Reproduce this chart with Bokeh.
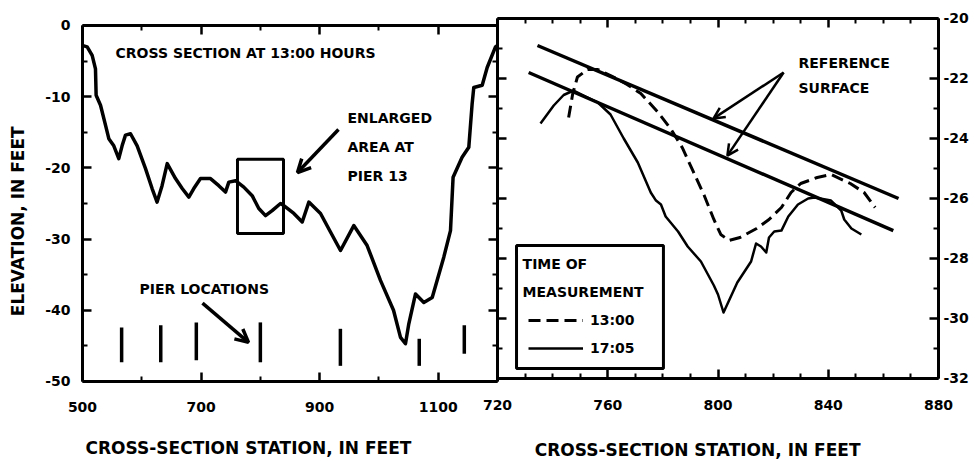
import math
from bokeh.plotting import figure
from bokeh.models import (Range1d, LinearAxis, FixedTicker, Label, Arrow, OpenHead,
                          BoxAnnotation, Legend, LegendItem)
from bokeh.embed import file_html
from bokeh.resources import INLINE

# ---------------- data: left panel (cross section at 13:00) ----------------
SECTION_STATION = [499.5, 507.9, 516.3, 521.9, 523.0, 530.4, 538.8, 544.4, 552.8, 561.2,
                   566.8, 572.5, 581.0, 592.2, 606.3, 617.4, 625.8, 634.2, 642.9, 656.9,
                   668.2, 679.4, 687.7, 699.0, 715.9, 729.9, 741.2, 746.8, 758.1, 772.1,
                   786.2, 797.4, 808.7, 819.9, 834.0, 839.6, 856.5, 870.6, 881.8, 901.5,
                   918.3, 935.2, 957.6, 980.1, 1002.6, 1024.6, 1036.4, 1044.8, 1050.4, 1061.7,
                   1075.7, 1089.9, 1109.5, 1120.7, 1125.1, 1140.3, 1151.6, 1157.2, 1160.0, 1174.2,
                   1182.6, 1196.6, 1200.0]
SECTION_ELEV = [-2.8, -3.0, -4.2, -6.1, -9.8, -11.2, -14.0, -15.9, -16.9, -18.7,
                -16.9, -15.4, -15.2, -16.9, -20.1, -22.9, -24.8, -22.5, -19.4, -21.5,
                -22.9, -24.1, -22.9, -21.5, -21.5, -22.5, -23.4, -22.0, -21.8, -22.7,
                -23.9, -25.7, -26.7, -26.0, -25.0, -25.3, -26.4, -27.6, -24.8, -26.4,
                -29.0, -31.6, -28.1, -30.9, -35.8, -40.0, -43.8, -44.7, -41.9, -37.7,
                -38.9, -38.2, -32.5, -28.8, -21.3, -18.5, -17.1, -11.0, -8.7, -8.4,
                -5.9, -3.0, -2.8]

PIER_STATION = [566, 632, 692, 800, 935, 1068, 1144]
PIER_TOP = [-42.4, -42.1, -41.7, -41.7, -42.6, -44.0, -42.1]
PIER_BOTTOM = [-47.3, -47.3, -47.0, -47.3, -47.8, -47.8, -46.1]

ENLARGED_LEFT = [761.4]
ENLARGED_RIGHT = [839.0]
ENLARGED_TOP = [-18.8]
ENLARGED_BOTTOM = [-29.2]

# ---------------- data: right panel (enlarged area at pier 13) ----------------
STATION_1300 = [745.8, 747.3, 749.0, 752.7, 756.4, 761.0, 767.0, 772.0, 778.0, 783.0,
                787.0, 791.0, 795.0, 798.5, 801.0, 804.0, 808.0, 814.0, 818.5, 823.0,
                826.5, 830.0, 836.0, 841.0, 848.0, 853.0, 857.0]
ELEV_1300 = [-23.3, -22.5, -21.95, -21.7, -21.7, -21.9, -22.2, -22.5, -23.1, -23.7,
             -24.3, -25.1, -25.9, -26.7, -27.2, -27.4, -27.3, -27.0, -26.7, -26.3,
             -25.8, -25.5, -25.3, -25.2, -25.5, -25.8, -26.3]

STATION_1705 = [735.6, 740.4, 744.0, 747.6, 752.0, 756.4, 761.0, 765.8, 770.9, 775.6,
                777.5, 779.3, 781.0, 785.5, 789.0, 793.8, 798.5, 800.0, 802.0, 807.0,
                812.0, 813.8, 815.6, 817.5, 818.5, 820.4, 823.0, 825.5, 829.0, 832.7,
                835.0, 841.0, 844.7, 845.8, 848.4, 852.0]
ELEV_1705 = [-23.5, -22.9, -22.55, -22.4, -22.6, -22.8, -23.2, -24.0, -24.8, -25.8,
             -26.07, -26.2, -26.6, -27.1, -27.6, -28.1, -28.9, -29.2, -29.8, -28.8,
             -28.1, -27.5, -27.6, -27.8, -27.3, -27.1, -27.07, -26.6, -26.2, -26.0,
             -25.97, -26.07, -26.4, -26.7, -27.0, -27.2]

REF_UPPER_X = [734.5, 865.5]
REF_UPPER_Y = [-20.9, -26.0]
REF_LOWER_X = [731.3, 863.6]
REF_LOWER_Y = [-21.8, -27.07]

# ---------------- tick values ----------------
LEFT_X_MAJOR = [500, 700, 900, 1100]
LEFT_X_MINOR = [600, 800, 1000, 1200]
LEFT_Y_MAJOR = [0, -10, -20, -30, -40, -50]
LEFT_Y_MINOR = [-5, -15, -25, -35, -45]
RIGHT_X_MAJOR = [720, 760, 800, 840, 880]
RIGHT_X_MINOR = [730, 740, 750, 770, 780, 790, 810, 820, 830, 850, 860, 870]
RIGHT_Y_MAJOR = [-20, -22, -24, -26, -28, -30, -32]
RIGHT_Y_MINOR = [-21, -23, -25, -27, -29, -31]

X_TITLE = "CROSS-SECTION STATION, IN FEET"
Y_TITLE = "ELEVATION, IN FEET"

FONT = "DejaVu Sans"

# The plotting frame covers the whole canvas; both panel frames are drawn with
# axes placed at fixed locations so that every text stays inside the frame.
p = figure(width=975, height=461, output_backend="svg", toolbar_location=None,
           x_range=Range1d(361.69, 2006.26), y_range=Range1d(-61.236, 3.511),
           x_axis_location=None, y_axis_location=None, min_border=0)
p.extra_x_ranges = {"right": Range1d(539.68, 893.42)}
p.extra_y_ranges = {"right": Range1d(-34.767, -19.4)}
p.title.visible = False
p.outline_line_color = None
p.grid.visible = False
p.background_fill_color = "white"
p.border_fill_color = "white"


def frame_axis(side, major, minor, fixed, bounds, xr="default", yr="default",
               labels=False, standoff=8):
    ax = LinearAxis(ticker=FixedTicker(ticks=major, minor_ticks=minor),
                    fixed_location=fixed, bounds=bounds,
                    x_range_name=xr, y_range_name=yr)
    ax.axis_line_width = 3
    ax.axis_line_color = "black"
    ax.major_tick_line_width = 2.5
    ax.minor_tick_line_width = 2
    ax.major_tick_in = 9
    ax.major_tick_out = 0
    ax.minor_tick_in = 5
    ax.minor_tick_out = 0
    ax.major_label_text_font = FONT
    ax.major_label_text_font_size = "14px"
    ax.major_label_text_font_style = "bold"
    ax.major_label_text_color = "black"
    ax.major_label_standoff = standoff
    if labels:
        ax.major_label_overrides = {t: str(t) for t in major}
    else:
        ax.major_label_overrides = {t: "" for t in major}
    p.add_layout(ax, side)


# left panel frame
frame_axis("left", LEFT_Y_MAJOR, LEFT_Y_MINOR, 500, (-50, 0), labels=True, standoff=12)
frame_axis("right", LEFT_Y_MAJOR, LEFT_Y_MINOR, 1200, (-50, 0))
frame_axis("below", LEFT_X_MAJOR, LEFT_X_MINOR, -50, (500, 1200), labels=True, standoff=21)
frame_axis("above", LEFT_X_MAJOR, LEFT_X_MINOR, 0, (500, 1200))
# right panel frame
frame_axis("right", RIGHT_Y_MAJOR, RIGHT_Y_MINOR, 880, (-32, -20), xr="right", yr="right",
           labels=True, standoff=5)
frame_axis("left", RIGHT_Y_MAJOR, RIGHT_Y_MINOR, 720, (-32, -20), xr="right", yr="right")
frame_axis("below", RIGHT_X_MAJOR, RIGHT_X_MINOR, -32, (720, 880), xr="right", yr="right",
           labels=True, standoff=22)
frame_axis("above", RIGHT_X_MAJOR, RIGHT_X_MINOR, -20, (720, 880), xr="right", yr="right")

# ---------------- left panel marks ----------------
p.line(SECTION_STATION, SECTION_ELEV, line_color="black", line_width=3.5, line_join="round")
p.segment(x0=PIER_STATION, y0=PIER_TOP, x1=PIER_STATION, y1=PIER_BOTTOM,
          line_color="black", line_width=3.5)
p.quad(left=ENLARGED_LEFT, right=ENLARGED_RIGHT, top=ENLARGED_TOP, bottom=ENLARGED_BOTTOM,
       fill_color=None, line_color="black", line_width=3)

# ---------------- right panel marks ----------------
p.line(REF_UPPER_X, REF_UPPER_Y, x_range_name="right", y_range_name="right",
       line_color="black", line_width=3.5)
p.line(REF_LOWER_X, REF_LOWER_Y, x_range_name="right", y_range_name="right",
       line_color="black", line_width=3.5)
r1300 = p.line(STATION_1300, ELEV_1300, x_range_name="right", y_range_name="right",
               line_color="black", line_width=3, line_dash="12 6")
r1705 = p.line(STATION_1705, ELEV_1705, x_range_name="right", y_range_name="right",
               line_color="black", line_width=2.5, line_join="round")


def label(x, y, text, size="14px", xr="default", yr="default", align="left", angle=0.0):
    p.add_layout(Label(x=x, y=y, text=text, x_range_name=xr, y_range_name=yr,
                       text_font=FONT, text_font_size=size, text_font_style="bold",
                       text_color="black", text_align=align, text_baseline="middle",
                       angle=angle))


def arrow(x0, y0, x1, y1, xr="default", yr="default", width=3.5, size=13):
    p.add_layout(Arrow(end=OpenHead(size=size, line_width=width, line_color="black"),
                       x_start=x0, y_start=y0, x_end=x1, y_end=y1,
                       x_range_name=xr, y_range_name=yr,
                       line_width=width, line_color="black"))


# axis titles
label(392.0, -27.5, Y_TITLE, size="17px", align="center", angle=math.pi / 2)
label(780.0, -59.4, X_TITLE, size="17px", align="center")
label(792.6, -34.4, X_TITLE, size="17px", align="center", xr="right", yr="right")

# left panel annotations
label(555.7, -3.8, "CROSS SECTION AT 13:00 HOURS")
label(947.0, -13.06, "ENLARGED")
label(947.0, -17.13, "AREA AT")
label(947.0, -21.2, "PIER 13")
arrow(931.8, -14.6, 862.6, -20.65)
label(596.1, -36.94, "PIER LOCATIONS")
arrow(702.4, -39.0, 780.0, -44.5)

# right panel annotations
label(829.2, -21.47, "REFERENCE", xr="right", yr="right")
label(829.2, -22.33, "SURFACE", xr="right", yr="right")
arrow(823.8, -21.8, 798.4, -23.33, xr="right", yr="right", width=2.5, size=11)
arrow(823.8, -21.8, 803.4, -24.57, xr="right", yr="right", width=2.5, size=11)

# legend
p.add_layout(BoxAnnotation(left=726.9, right=780.2, top=-27.57, bottom=-31.67,
                           x_range_name="right", y_range_name="right",
                           fill_color=None, fill_alpha=0, line_color="black",
                           line_alpha=1.0, line_width=3))
label(729.1, -28.17, "TIME OF", xr="right", yr="right")
label(729.1, -29.13, "MEASUREMENT", xr="right", yr="right")
legend = Legend(items=[LegendItem(label="13:00", renderers=[r1300]),
                       LegendItem(label="17:05", renderers=[r1705])],
                location=(528, 103), padding=0, margin=0, spacing=8,
                glyph_width=55, glyph_height=20, label_height=20, label_standoff=7,
                label_text_font=FONT, label_text_font_size="14px",
                label_text_font_style="bold", label_text_color="black",
                border_line_color=None, background_fill_alpha=0)
p.add_layout(legend, "center")

open("out.html", "w").write(file_html(p, INLINE))
